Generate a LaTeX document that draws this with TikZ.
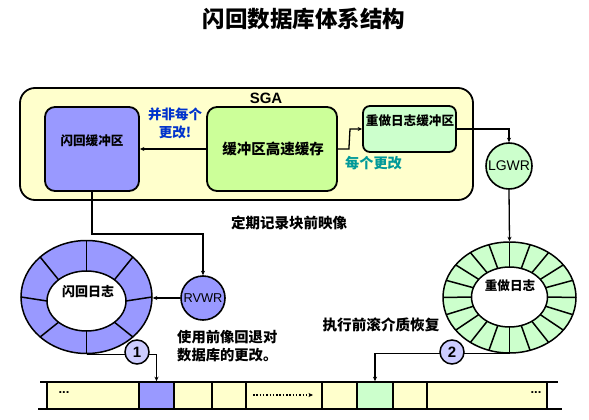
\documentclass[tikz,border=0pt]{standalone}
\usepackage{fontspec}
\setmainfont{Liberation Sans}
\newfontfamily\cjk{Noto Sans CJK SC}
\usetikzlibrary{shapes.geometric,arrows.meta,calc}
\definecolor{sgaY}{HTML}{FFFFCC}
\definecolor{fbBlue}{HTML}{9999FF}
\definecolor{bcGreen}{HTML}{CCFF99}
\definecolor{rdGreen}{HTML}{CCFFCC}
\definecolor{numBlue}{HTML}{CCCCFF}
\definecolor{txtBlue}{HTML}{0033CC}
\definecolor{txtTeal}{HTML}{009999}
\tikzset{
  box/.style={draw, line width=1.8pt, inner sep=0pt},
  conn/.style={line width=1.3pt},
  arr/.style={-{Stealth[length=4.5pt,width=4pt]}},
  cjkt/.style={font=\cjk\bfseries\fontsize{#1}{#1}\selectfont, inner sep=0pt},
  latt/.style={font=\fontsize{#1}{#1}\selectfont, inner sep=0pt},
  proc/.style={draw, circle, line width=1.6pt, inner sep=0pt},
  ringline/.style={line width=1.5pt},
  cell/.style={draw, line width=1.6pt, minimum height=27, inner sep=0pt, fill=sgaY},
  numc/.style={draw, circle, line width=1.5pt, fill=numBlue, minimum size=24, inner sep=0pt, font=\bfseries\fontsize{15}{15}\selectfont}
}
\begin{document}
\begin{tikzpicture}[x=1pt,y=-1pt]
\useasboundingbox[fill=white] (0,0) rectangle (589,420);

% title
\node[font=\cjk\bfseries\fontsize{22.5}{22.5}\selectfont, inner sep=0pt] (title) at (304,19) {闪回数据库体系结构};

% SGA
\node[box, fill=sgaY, rounded corners=15pt, minimum width=453, minimum height=112] (sga) at (246.5,144) {};
\node[latt=15, font=\bfseries\fontsize{15}{15}\selectfont] (sgat) at (266,98) {SGA};

% flashback buffer
\node[box, fill=fbBlue, rounded corners=10pt, minimum width=94, minimum height=84] (fbuf) at (92,149) {};
\node[cjkt=12.6] (fbuft) at (92,141) {闪回缓冲区};

% buffer cache
\node[box, fill=bcGreen, rounded corners=10pt, minimum width=130, minimum height=84] (bcache) at (272,149) {};
\node[cjkt=14.5] (bcachet) at (273,149) {缓冲区高速缓存};

% redo log buffer
\node[box, fill=rdGreen, rounded corners=7pt, minimum width=93, minimum height=46] (rbuf) at (409.5,129) {};
\node[cjkt=12.6] (rbuft) at (410,121) {重做日志缓冲区};

% labels
\node[cjkt=13.5, text=txtBlue, align=center, font=\cjk\bfseries\fontsize{13.5}{18}\selectfont] (notevery) at (175,123) {并非每个\\更改!};
\node[cjkt=14.2, text=txtTeal] (every) at (373.5,163) {每个更改};

% processes
\node[proc, fill=rdGreen, minimum size=46, latt=14] (lgwr) at (509,166) {LGWR};
\node[proc, fill=fbBlue, minimum size=44, latt=12.8] (rvwr) at (203,298) {RVWR};

% flashback log ring
\node[ellipse, draw, ringline, fill=fbBlue, minimum width=131, minimum height=113, inner sep=0pt] (fring) at (86.5,297) {};
\node[ellipse, draw, ringline, fill=white, minimum width=79, minimum height=60, inner sep=0pt] (fin) at (86.5,301) {};
\foreach \a in {0,45,...,315}
  \draw[ringline] ($(fin.center)+(\a:39.5 and 30)$) -- ($(fring.center)+(\a:65.5 and 56.5)$);
\node[cjkt=13] (fringt) at (88,292) {闪回日志};

% redo log ring
\node[ellipse, draw, ringline, fill=rdGreen, minimum width=133, minimum height=111, inner sep=0pt] (rring) at (509.5,297.5) {};
\node[ellipse, draw, ringline, fill=white, minimum width=76, minimum height=60, inner sep=0pt] (rin) at (509.5,297) {};
\foreach \a in {0,18,...,342}
  \draw[ringline] ($(rin.center)+(\a:38 and 30)$) -- ($(rring.center)+(\a:66.5 and 55.5)$);
\node[cjkt=12.6] (rringt) at (510,286) {重做日志};

% text notes
\node[cjkt=14.5] (periodic) at (289,223) {定期记录块前映像};
\node[cjkt=14.3, anchor=west, align=left, font=\cjk\bfseries\fontsize{14.3}{18}\selectfont] (undo) at (177,346) {使用前像回退对\\数据库的更改。};
\node[cjkt=14.6] (rollfwd) at (381,325) {执行前滚介质恢复};

% data file bar
\node[cell, minimum width=92] (c1) at (93,395.5) {};
\node[cell, minimum width=35, fill=fbBlue] (c2) at (156.5,395.5) {};
\node[cell, minimum width=38] (c3) at (193,395.5) {};
\node[cell, minimum width=34] (c4) at (229,395.5) {};
\node[cell, minimum width=76] (c5) at (284,395.5) {};
\node[cell, minimum width=35] (c6) at (339.5,395.5) {};
\node[cell, minimum width=36, fill=rdGreen] (c7) at (375,395.5) {};
\node[cell, minimum width=34] (c8) at (410,395.5) {};
\node[cell, minimum width=120] (c9) at (487,395.5) {};
\draw[line width=1.8pt] (40,382) -- (558,382);
\draw[line width=1.8pt] (38,409) -- (562,409);
\node[latt=13, font=\bfseries\fontsize{13}{13}\selectfont] (dl) at (64,393) {...};
\node[latt=13, font=\bfseries\fontsize{13}{13}\selectfont] (dr) at (536,393) {...};
\draw[line width=1.3pt, dash pattern=on 1.5pt off 1.8pt, arr] (253,395) -- (313,395);

% connectors
\draw[conn, arr] (bcache.west) -- (fbuf.east);
\draw[conn, arr] (bcache.east) -- ++(11,0) -- (350,129) -- (rbuf.west);
\draw[conn, arr] (rbuf.east) -| (lgwr.north);
\draw[conn, arr] (lgwr.south) -- (rring.north);
\draw[conn, arr] (fbuf.south) -- ++(0,42) -| (rvwr.north);
\draw[conn, arr] (rvwr.west) -- (rvwr.west -| fring.east);
\draw[conn, arr] (fring.south) -| (c2.north);
\draw[conn, arr] (rring.south) -| (c7.north);

% step numbers
\node[numc] (n1) at (137,352) {1};
\node[numc] (n2) at (452,352) {2};
\end{tikzpicture}
\end{document}
